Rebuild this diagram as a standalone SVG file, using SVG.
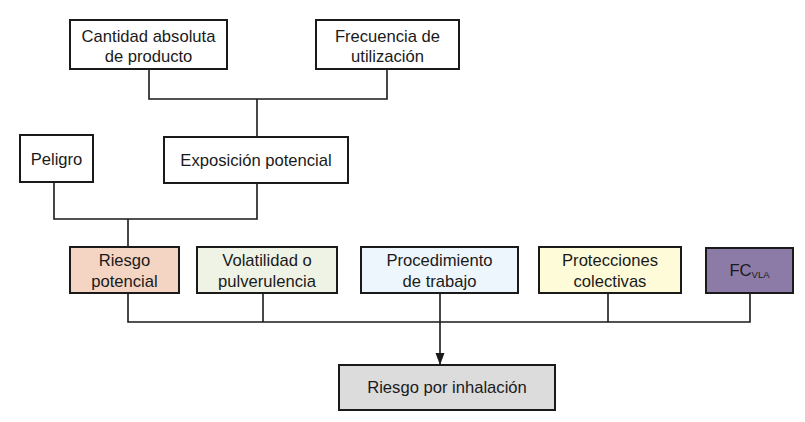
<svg xmlns="http://www.w3.org/2000/svg" width="805" height="422" viewBox="0 0 805 422">
<style>
.box{stroke:#1a1a1a;stroke-width:2}
.w{fill:#ffffff}
text{font-family:"Liberation Sans",Arial,Helvetica,sans-serif;font-size:16.6px;fill:#1a1a1a;text-anchor:middle}
.c{fill:none;stroke:#1a1a1a;stroke-width:1.6}
</style>
<defs>
<marker id="arr" markerWidth="12" markerHeight="10" refX="12" refY="5" orient="auto" markerUnits="userSpaceOnUse" viewBox="0 0 12 10">
<path d="M0,0.5 L12,5 L0,9.5 Z" fill="#1a1a1a"/>
</marker>
</defs>
<rect width="805" height="422" fill="#ffffff"/>
<g id="connectors">
<path class="c" d="M149,69 V99 H387 V69"/>
<path class="c" d="M257,99 V137"/>
<path class="c" d="M54,182 V219 H257 V183"/>
<path class="c" d="M128,219 V247"/>
<path class="c" d="M128,293 V322 H750 V293"/>
<path class="c" d="M263,293 V322"/>
<path class="c" d="M608,293 V322"/>
<path class="c" d="M440,293 V365" marker-end="url(#arr)"/>
</g>
<g id="cantidad">
<rect class="box w" x="70" y="20" width="157" height="49"/>
<text x="148.5" y="42">Cantidad absoluta</text>
<text x="148.5" y="62">de producto</text>
</g>
<g id="frecuencia">
<rect class="box w" x="316" y="20" width="143" height="49"/>
<text x="387.5" y="42">Frecuencia de</text>
<text x="387.5" y="62">utilización</text>
</g>
<g id="peligro">
<rect class="box w" x="20" y="135" width="73" height="47"/>
<text x="56.5" y="165">Peligro</text>
</g>
<g id="exposicion">
<rect class="box w" x="164" y="137" width="184" height="46"/>
<text x="256" y="166">Exposición potencial</text>
</g>
<g id="riesgo-potencial">
<rect class="box" x="70" y="247" width="109" height="46" fill="#f4d5c4"/>
<text x="124.5" y="266">Riesgo</text>
<text x="124.5" y="287">potencial</text>
</g>
<g id="volatilidad">
<rect class="box" x="197" y="247" width="140" height="46" fill="#eef3e6"/>
<text x="267" y="266">Volatilidad o</text>
<text x="267" y="287">pulverulencia</text>
</g>
<g id="procedimiento">
<rect class="box" x="361" y="247" width="157" height="46" fill="#eef6fd"/>
<text x="439.5" y="266">Procedimiento</text>
<text x="439.5" y="287">de trabajo</text>
</g>
<g id="protecciones">
<rect class="box" x="539" y="247" width="142" height="46" fill="#fefbd8"/>
<text x="610" y="266">Protecciones</text>
<text x="610" y="287">colectivas</text>
</g>
<g id="fc">
<rect class="box" x="706" y="248" width="87" height="45" fill="#8c7ba7"/>
<text x="749.5" y="276">FC<tspan font-size="9.5" dy="2">VLA</tspan></text>
</g>
<g id="riesgo-inhalacion">
<rect class="box" x="339" y="365" width="216" height="45" fill="#dcdcdc"/>
<text x="447" y="393">Riesgo por inhalación</text>
</g>
</svg>
